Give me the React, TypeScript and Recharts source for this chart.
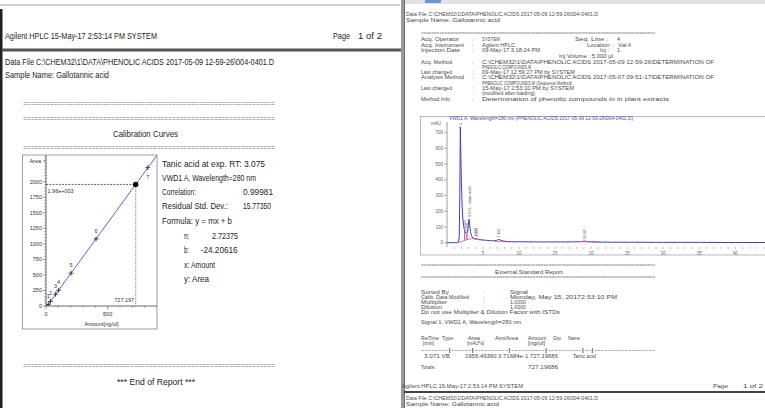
import React from 'react'
import { ComposedChart, Line, Scatter, XAxis, YAxis, ReferenceLine } from 'recharts'

// calibration curve, page 1
const calLevels = ['1', '2', '3', '4', '5', '6', '7']
const calAmounts = [18, 36, 78, 102, 203, 406, 825]
const calAreas = [25, 74, 190, 254, 528, 1080, 2226]
const fitAmounts = [0, 900]
const fitAreas = [-24.2, 2427.2]
const sampleAmount = 727.197
const sampleArea = 1956.4939
const calYTicks = [0, 250, 500, 750, 1000, 1250, 1500, 1750, 2000]
const calXTicks = [0, 500]
const calYMinor = Array.from({ length: 49 }, (_, i) => i * 50)
const calXMinor = [0, 100, 200, 300, 400, 500, 600, 700, 800, 900]

// chromatogram, page 2
const chromTime = [0, 1.2, 1.5, 1.6, 1.7, 1.78, 1.85, 1.92, 2.0, 2.1, 2.2, 2.3, 2.4, 2.5, 2.6, 2.7, 2.8, 2.9, 2.98, 3.07, 3.15, 3.25, 3.4, 3.6, 3.8, 3.95, 4.05, 4.12, 4.25, 4.6, 5.0, 5.5, 6.0, 6.5, 6.9, 7.17, 7.45, 7.8, 8.3, 9, 10, 12, 15, 17, 18.5, 18.9, 19.05, 19.3, 19.8, 21, 23, 26, 30, 35, 40, 45, 48]
const chromSignal = [0, 0, 1, 3, 40, 320, 737, 560, 380, 240, 150, 110, 85, 70, 62, 60, 62, 85, 125, 150, 110, 70, 45, 30, 26, 28, 26, 27, 23, 20, 17, 15, 13, 12, 15, 21, 16, 11, 7, 6, 6, 5, 5, 5, 6, 9, 11, 8, 6, 4, 3, 3, 2, 2, 1, 1, 0]
const baseTime = [1.55, 2.44, 2.44, 2.44, 2.77, 2.77, 2.77, 3.6, 3.65, 3.75, 4.9, 5.5, 6.5, 8.3, 12, 18.6, 21.3]
const baseSignal = [0, 14, 80, 14, 19, 60, 19, 28, null, 22, 17, null, 10, 5, null, 6, 4]
const peakTimes = [1.85, 2.44, 2.77, 3.07, 3.95, 4.12, 7.17, 19.05]
const peakHeights = [737, 80, 60, 150, 28, 27, 21, 11]
const peakNames = ['1.853', '2.456', '2.635', '3.071 - tanic acid', '3.950', '4.097', '7.168', '19.047']
const chromYTicks = [0, 100, 200, 300, 400, 500, 600, 700]
const chromXMinor = Array.from({ length: 47 }, (_, i) => i + 1)

const calPoints = calAmounts.map((x, i) => ({ x, y: calAreas[i], level: calLevels[i] }))
const fitLine = fitAmounts.map((x, i) => ({ x, y: fitAreas[i] }))
const samplePoint = [{ x: sampleAmount, y: sampleArea }]
const trace = chromTime.map((t, i) => ({ t, v: chromSignal[i] }))
const baseline = baseTime.map((t, i) => ({ t, v: baseSignal[i] }))
const peaks = peakTimes.map((t, i) => ({ t, v: peakHeights[i], name: peakNames[i] }))

function CalPlus(props: any) {
  const { cx, cy, payload } = props
  const last = payload.level === calLevels[calLevels.length - 1]
  return (
    <g>
      <path d={`M${cx - 2.5},${cy}h5M${cx},${cy - 2.5}v5`} stroke="#222" strokeWidth={0.8} />
      <text x={cx} y={last ? cy + 11 : cy - 6} textAnchor="middle" fontSize={5.5} fill="#333">
        {payload.level}
      </text>
    </g>
  )
}

function RefText(props: any) {
  const { viewBox, text, dx, dy, anchor } = props
  if (!viewBox) return null
  return (
    <text x={viewBox.x + dx} y={viewBox.y + (viewBox.height || 0) + dy} textAnchor={anchor} fontSize={5.5} fill="#333">
      {text}
    </text>
  )
}

function CalYTick(props: any) {
  const { x, y, payload } = props
  const major = calYTicks.includes(payload.value)
  return (
    <g>
      <line x1={x - (major ? 3 : 1.5)} x2={x} y1={y} y2={y} stroke="#444" strokeWidth={0.6} />
      {major && (
        <text x={x - 4} y={y} dy="0.35em" textAnchor="end" fontSize={5.5} fill="#333">
          {payload.value}
        </text>
      )}
    </g>
  )
}

function CalXTick(props: any) {
  const { x, y, payload } = props
  const major = calXTicks.includes(payload.value)
  return (
    <g>
      <line x1={x} x2={x} y1={y} y2={y + (major ? 3 : 1.5)} stroke="#444" strokeWidth={0.6} />
      {major && (
        <text x={x} y={y + 10} textAnchor="middle" fontSize={5.5} fill="#333">
          {payload.value}
        </text>
      )}
    </g>
  )
}

function ChromYTick(props: any) {
  const { x, y, payload } = props
  return (
    <g>
      <line x1={x - 3} x2={x} y1={y} y2={y} stroke="#777" strokeWidth={0.6} />
      <text x={x - 4} y={y} dy="0.35em" textAnchor="end" fontSize={4.5} fill="#666">
        {payload.value}
      </text>
    </g>
  )
}

function ChromXTick(props: any) {
  const { x, y, payload } = props
  const major = payload.value % 5 === 0
  return (
    <g>
      <line x1={x} x2={x} y1={y} y2={y + 2} stroke="#888" strokeWidth={0.6} />
      {major && (
        <text x={x} y={y + 7.6} textAnchor="middle" fontSize={4.5} fill="#666">
          {payload.value}
        </text>
      )}
    </g>
  )
}

function PeakTag(props: any) {
  const { cx, cy, payload } = props
  const y = cy - 2
  return (
    <text
      x={cx}
      y={y}
      dy="0.35em"
      transform={`rotate(-90 ${cx} ${y})`}
      fontSize={4}
      fill="#555"
      textLength={payload.name.length * 1.7}
      lengthAdjust="spacingAndGlyphs"
    >
      {payload.name}
    </text>
  )
}

function CalibrationChart() {
  return (
    <ComposedChart width={134} height={174} margin={{ top: 0, right: 0, bottom: 0, left: 0 }}>
      <XAxis
        type="number"
        dataKey="x"
        domain={[0, 900]}
        ticks={calXMinor}
        interval={0}
        tickSize={0}
        tickMargin={0}
        tickLine={false}
        tick={(p: any) => <CalXTick {...p} />}
        axisLine={{ stroke: '#444', strokeWidth: 0.8 }}
        height={23}
        allowDataOverflow
        label={(p: any) =>
          p.viewBox ? (
            <text x={p.viewBox.x + p.viewBox.width / 2} y={p.viewBox.y + 20} textAnchor="middle" fontSize={5.5} fill="#333">
              Amount[ng/ul]
            </text>
          ) : null
        }
      />
      <YAxis
        type="number"
        domain={[0, 2430]}
        ticks={calYMinor}
        interval={0}
        tickSize={0}
        tickMargin={0}
        tickLine={false}
        tick={(p: any) => <CalYTick {...p} />}
        axisLine={{ stroke: '#444', strokeWidth: 0.8 }}
        width={23}
        allowDataOverflow
        label={(p: any) =>
          p.viewBox ? (
            <g>
              <line x1={p.viewBox.x + p.viewBox.width - 3} x2={p.viewBox.x + p.viewBox.width} y1={p.viewBox.y + 6} y2={p.viewBox.y + 6} stroke="#444" strokeWidth={0.6} />
              <text x={p.viewBox.x + p.viewBox.width - 5} y={p.viewBox.y + 8} textAnchor="end" fontSize={5.5} fill="#333">
                Area
              </text>
            </g>
          ) : null
        }
      />
      <ReferenceLine
        segment={[{ x: 0, y: sampleArea }, { x: sampleAmount, y: sampleArea }]}
        stroke="#222"
        strokeWidth={0.7}
        strokeDasharray="2 1.2"
        label={<RefText text="1.96e+003" dx={1.5} dy={9} anchor="start" />}
      />
      <ReferenceLine
        segment={[{ x: sampleAmount, y: 0 }, { x: sampleAmount, y: sampleArea }]}
        stroke="#444"
        strokeWidth={0.7}
        strokeDasharray="1 1"
        label={<RefText text="727.197" dx={-1.5} dy={-4} anchor="end" />}
      />
      <Line data={fitLine} dataKey="y" type="linear" stroke="#4a52c8" strokeWidth={0.9} dot={false} isAnimationActive={false} />
      <Scatter data={calPoints} dataKey="y" shape={(p: any) => <CalPlus {...p} />} isAnimationActive={false} />
      <Scatter data={samplePoint} dataKey="y" shape={(p: any) => <circle cx={p.cx} cy={p.cy} r={2.7} fill="#000" />} isAnimationActive={false} />
    </ComposedChart>
  )
}

function Chromatogram() {
  return (
    <ComposedChart width={373} height={139} margin={{ top: 6, right: 0, bottom: 0, left: 0 }}>
      <XAxis
        type="number"
        dataKey="t"
        domain={[0, 48]}
        ticks={chromXMinor}
        interval={0}
        tickSize={0}
        tickMargin={0}
        tickLine={false}
        axisLine={false}
        tick={(p: any) => <ChromXTick {...p} />}
        height={8}
        allowDataOverflow
      />
      <YAxis
        type="number"
        domain={[-27.4, 768]}
        ticks={chromYTicks}
        interval={0}
        tickSize={0}
        tickMargin={0}
        tickLine={false}
        tick={(p: any) => <ChromYTick {...p} />}
        axisLine={{ stroke: '#777', strokeWidth: 0.7 }}
        width={27}
        allowDataOverflow
        label={(p: any) =>
          p.viewBox ? (
            <text x={p.viewBox.x + p.viewBox.width - 6} y={p.viewBox.y + 3} textAnchor="end" fontSize={4.5} fill="#666">
              mAU
            </text>
          ) : null
        }
      />
      <Line data={trace} dataKey="v" type="linear" stroke="#3f3fc8" strokeWidth={1} dot={false} isAnimationActive={false} />
      <Line data={baseline} dataKey="v" type="linear" stroke="#e0508a" strokeWidth={0.8} dot={false} connectNulls={false} isAnimationActive={false} />
      <Scatter data={peaks} dataKey="v" shape={(p: any) => <PeakTag {...p} />} isAnimationActive={false} />
    </ComposedChart>
  )
}

function Tx({ x, y, w, s = 9.5, c = '#1e1e1e', a = 'start', children }: any) {
  return (
    <text x={x} y={y + s * 0.36} fontSize={s} fill={c} textAnchor={a} textLength={w} lengthAdjust={w ? 'spacingAndGlyphs' : undefined}>
      {children}
    </text>
  )
}

const R = 5.5
const RC = '#4a4a4a'
const eqL = '='.repeat(66)
const eqR = '='.repeat(90)

export default function App() {
  return (
    <div
      style={{
        position: 'absolute',
        left: 0,
        top: 0,
        width: 765,
        height: 408,
        overflow: 'hidden',
        background: '#fff',
        fontFamily: '"Liberation Sans", Arial, sans-serif',
      }}
    >
      <div style={{ position: 'absolute', left: 23, top: 155 }}>
        <CalibrationChart />
      </div>
      <div style={{ position: 'absolute', left: 420, top: 116 }}>
        <Chromatogram />
      </div>

      <svg width={765} height={408} style={{ position: 'absolute', left: 0, top: 0, whiteSpace: 'pre', pointerEvents: 'none' }}>
        {/* page frames */}
        <rect x={0} y={4.5} width={400} height={1} fill="#aaa" />
        <rect x={0} y={9} width={2.5} height={400} fill="#222" />
        <rect x={2} y={48.5} width={401} height={3} fill="#555" />
        <rect x={401} y={0} width={2} height={408} fill="#999" />
        <rect x={403.5} y={0} width={1.2} height={408} fill="#333" />
        <rect x={405} y={0} width={360} height={4} fill="#e2e2e2" />
        <rect x={425} y={0} width={16} height={3} fill="#6a95d8" />
        <rect x={404} y={391} width={361} height={2} fill="#444" />
        <rect x={22.5} y={155} width={134.5} height={174} fill="none" stroke="#888" strokeWidth={0.8} />
        <rect x={420.5} y={116.5} width={400} height={138.5} fill="none" stroke="#aaa" strokeWidth={0.8} />

        {/* page 1 */}
        <Tx x={5} y={36} w={152}>Agilent HPLC 15-May-17 2:53:14 PM SYSTEM</Tx>
        <Tx x={333} y={36} w={17}>Page</Tx>
        <Tx x={358} y={36} w={24}>1 of 2</Tx>
        <Tx x={5} y={62} w={269}>Data File C:\CHEM32\1\DATA\PHENOLIC ACIDS  2017-05-09 12-59-26\004-0401.D</Tx>
        <Tx x={5} y={75} w={104}>Sample Name: Gallotannic acid</Tx>
        <Tx x={23} y={103.3} w={252} s={7} c="#777">{eqL}</Tx>
        <Tx x={23} y={118.3} w={252} s={7} c="#777">{eqL}</Tx>
        <Tx x={113} y={134} w={65}>Calibration Curves</Tx>
        <Tx x={23} y={147.3} w={252} s={7} c="#777">{eqL}</Tx>
        <Tx x={162} y={163.3} w={103}>Tanic acid at exp. RT: 3.075</Tx>
        <Tx x={162} y={177.7} w={94}>VWD1 A, Wavelength=280 nm</Tx>
        <Tx x={162} y={191.7} w={34}>Correlation:</Tx>
        <Tx x={243} y={191.7} w={30}>0.99981</Tx>
        <Tx x={162} y={206} w={66}>Residual Std. Dev.:</Tx>
        <Tx x={243} y={206} w={28}>15.77350</Tx>
        <Tx x={162} y={220.7} w={70}>Formula: y = mx + b</Tx>
        <Tx x={184} y={236} w={5}>m:</Tx>
        <Tx x={212} y={236} w={26}>2.72375</Tx>
        <Tx x={184} y={249.3} w={5}>b:</Tx>
        <Tx x={200.7} y={249.3} w={37}>-24.20616</Tx>
        <Tx x={184} y={264.3} w={31}>x: Amount</Tx>
        <Tx x={184} y={279} w={25}>y: Area</Tx>
        <Tx x={23} y={365} w={252} s={7} c="#777">{eqL}</Tx>
        <Tx x={117} y={381.7} w={78}>*** End of Report ***</Tx>

        {/* page 2 header */}
        <Tx x={406} y={14} w={192} s={R} c={RC}>Data File C:\CHEM32\1\DATA\PHENOLIC ACIDS  2017-05-09 12-59-26\004-0401.D</Tx>
        <Tx x={406} y={20.5} w={94} s={R} c={RC}>Sample Name: Gallotannic acid</Tx>
        <Tx x={421} y={33} w={234} s={5} c="#888">{eqR}</Tx>
        <Tx x={421} y={39} w={38} s={R} c={RC}>Acq. Operator</Tx>
        <Tx x={472} y={39} s={R} c={RC}>:</Tx>
        <Tx x={482} y={39} w={18} s={R} c={RC}>SYSTEM</Tx>
        <Tx x={575} y={39} w={33} s={R} c={RC}>Seq. Line :</Tx>
        <Tx x={617} y={39} s={R} c={RC}>4</Tx>
        <Tx x={421} y={44.7} w={43} s={R} c={RC}>Acq. Instrument</Tx>
        <Tx x={472} y={44.7} s={R} c={RC}>:</Tx>
        <Tx x={482} y={44.7} w={33} s={R} c={RC}>Agilent HPLC</Tx>
        <Tx x={587} y={44.7} w={26} s={R} c={RC}>Location :</Tx>
        <Tx x={618} y={44.7} w={13} s={R} c={RC}>Vial 4</Tx>
        <Tx x={421} y={50} w={39} s={R} c={RC}>Injection Date</Tx>
        <Tx x={472} y={50} s={R} c={RC}>:</Tx>
        <Tx x={482} y={50} w={58} s={R} c={RC}>09-May-17 3:18:24 PM</Tx>
        <Tx x={600} y={50} w={9} s={R} c={RC}>Inj :</Tx>
        <Tx x={617} y={50} s={R} c={RC}>1</Tx>
        <Tx x={559} y={56} w={54} s={R} c={RC}>Inj Volume : 5.000 µl</Tx>
        <Tx x={421} y={62} w={31} s={R} c={RC}>Acq. Method</Tx>
        <Tx x={472} y={62} s={R} c={RC}>:</Tx>
        <Tx x={482} y={62} w={232} s={R} c={RC}>C:\CHEM32\1\DATA\PHENOLIC ACIDS  2017-05-09 12-59-26\DETERMINATION OF</Tx>
        <Tx x={482} y={67} w={49} s={R} c={RC}>PHENOLIC COMPOUNDS.M</Tx>
        <Tx x={421} y={72} w={31} s={R} c={RC}>Last changed</Tx>
        <Tx x={472} y={72} s={R} c={RC}>:</Tx>
        <Tx x={482} y={72} w={93} s={R} c={RC}>09-May-17 12:59:27 PM by SYSTEM</Tx>
        <Tx x={421} y={77.3} w={43} s={R} c={RC}>Analysis Method</Tx>
        <Tx x={472} y={77.3} s={R} c={RC}>:</Tx>
        <Tx x={482} y={77.3} w={232} s={R} c={RC}>C:\CHEM32\1\DATA\PHENOLIC ACIDS  2017-05-07 09-51-17\DETERMINATION OF</Tx>
        <Tx x={482} y={83} w={90} s={R} c={RC}>PHENOLIC COMPOUNDS.M (Sequence Method)</Tx>
        <Tx x={421} y={88} w={31} s={R} c={RC}>Last changed</Tx>
        <Tx x={472} y={88} s={R} c={RC}>:</Tx>
        <Tx x={482} y={88} w={92} s={R} c={RC}>15-May-17 2:53:10 PM by SYSTEM</Tx>
        <Tx x={482} y={93.3} w={53} s={R} c={RC}>(modified after loading)</Tx>
        <Tx x={421} y={99.3} w={29} s={R} c={RC}>Method Info</Tx>
        <Tx x={472} y={99.3} s={R} c={RC}>:</Tx>
        <Tx x={482} y={99.3} w={187} s={R} c={RC}>Determination of phenolic compounds in in plant extracts</Tx>
        <Tx x={449} y={118.8} w={184} s={4.6} c="#4a4ab0">VWD1 A, Wavelength=280 nm (PHENOLIC ACIDS  2017-05-09 12-59-26\004-0401.D)</Tx>

        {/* page 2 report */}
        <Tx x={421} y={265} w={234} s={5} c="#888">{eqR}</Tx>
        <Tx x={495} y={271.7} w={68} s={R} c={RC}>External Standard Report</Tx>
        <Tx x={421} y={276.7} w={234} s={5} c="#888">{eqR}</Tx>
        <Tx x={421} y={291.7} w={28} s={R} c={RC}>Sorted By</Tx>
        <Tx x={483} y={291.7} s={R} c={RC}>:</Tx>
        <Tx x={510} y={291.7} w={18} s={R} c={RC}>Signal</Tx>
        <Tx x={421} y={297} w={48} s={R} c={RC}>Calib. Data Modified</Tx>
        <Tx x={483} y={297} s={R} c={RC}>:</Tx>
        <Tx x={510} y={297} w={107} s={R} c={RC}>Monday, May 15, 20172:53:10 PM</Tx>
        <Tx x={421} y={302} w={26} s={R} c={RC}>Multiplier</Tx>
        <Tx x={483} y={302} s={R} c={RC}>:</Tx>
        <Tx x={510} y={302} w={16} s={R} c={RC}>1.0000</Tx>
        <Tx x={421} y={307} w={21} s={R} c={RC}>Dilution</Tx>
        <Tx x={483} y={307} s={R} c={RC}>:</Tx>
        <Tx x={510} y={307} w={16} s={R} c={RC}>1.0000</Tx>
        <Tx x={421} y={311.7} w={139} s={R} c={RC}>Do not use Multiplier &amp; Dilution Factor with ISTDs</Tx>
        <Tx x={421} y={321.7} w={100} s={R} c={RC}>Signal 1: VWD1 A, Wavelength=280 nm</Tx>
        <Tx x={421} y={338} w={18} s={R} c={RC}>RetTime</Tx>
        <Tx x={442} y={338} w={11} s={R} c={RC}>Type</Tx>
        <Tx x={468} y={338} w={12} s={R} c={RC}>Area</Tx>
        <Tx x={495} y={338} w={23} s={R} c={RC}>Amt/Area</Tx>
        <Tx x={528} y={338} w={18} s={R} c={RC}>Amount</Tx>
        <Tx x={553} y={338} w={8} s={R} c={RC}>Grp</Tx>
        <Tx x={568} y={338} w={12} s={R} c={RC}>Name</Tx>
        <Tx x={423} y={343.3} w={11} s={R} c={RC}>[min]</Tx>
        <Tx x={467} y={343.3} w={17} s={R} c={RC}>[mAU*s]</Tx>
        <Tx x={528} y={343.3} w={17} s={R} c={RC}>[ng/ul]</Tx>
        <Tx x={421} y={350} w={234} s={R} c={RC}>--------|------|----------|----------|----------|--|------------------</Tx>
        <Tx x={424} y={355.7} w={26} s={R} c={RC}>3.071 VB</Tx>
        <Tx x={465} y={355.7} w={93} s={R} c={RC}>1956.49390 3.71684e-1  727.19686</Tx>
        <Tx x={573} y={355.7} w={23} s={R} c={RC}>Tanic acid</Tx>
        <Tx x={421} y={366.7} w={16} s={R} c={RC}>Totals :</Tx>
        <Tx x={528} y={366.7} w={30} s={R} c={RC}>727.19686</Tx>
        <Tx x={402} y={386} w={121} s={R} c={RC}>Agilent HPLC 15-May-17 2:53:14 PM SYSTEM</Tx>
        <Tx x={713} y={386} w={15} s={R} c={RC}>Page</Tx>
        <Tx x={743} y={386} w={20} s={R} c={RC}>1 of 2</Tx>
        <Tx x={406} y={397.7} w={192} s={R} c={RC}>Data File C:\CHEM32\1\DATA\PHENOLIC ACIDS  2017-05-09 12-59-26\004-0401.D</Tx>
        <Tx x={406} y={404} w={93} s={R} c={RC}>Sample Name: Gallotannic acid</Tx>
      </svg>
    </div>
  )
}
